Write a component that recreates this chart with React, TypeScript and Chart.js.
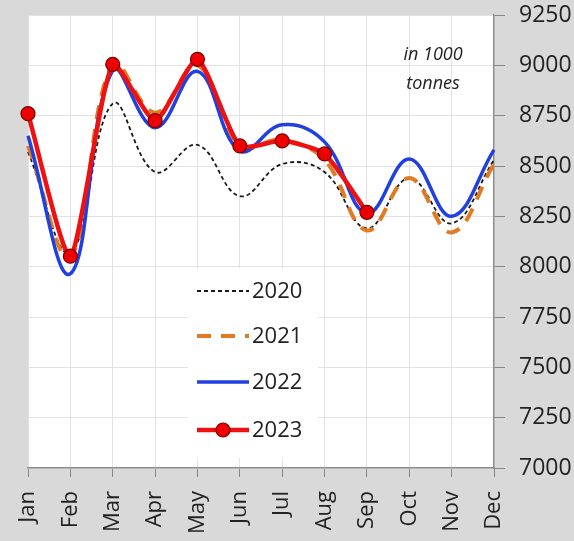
import React, { useEffect, useRef } from "react";
import { Chart, registerables } from "chart.js";

Chart.register(...registerables);

const months = ["Jan", "Feb", "Mar", "Apr", "May", "Jun", "Jul", "Aug", "Sep", "Oct", "Nov", "Dec"];
const yTicks = [7000, 7250, 7500, 7750, 8000, 8250, 8500, 8750, 9000, 9250];
const s2020 = [8570, 8070, 8810, 8470, 8605, 8350, 8510, 8470, 8190, 8440, 8215, 8530];
const s2021 = [8600, 8050, 9005, 8765, 9000, 8600, 8630, 8530, 8180, 8440, 8170, 8510];
const s2022 = [8650, 7965, 8975, 8690, 8970, 8575, 8705, 8620, 8265, 8535, 8250, 8580];
const s2023 = [8760, 8052, 9005, 8725, 9030, 8600, 8625, 8560, 8270, null, null, null];
const seriesNames = ["2020", "2021", "2022", "2023"];
const unitLines = ["in 1000", "tonnes"];

const FONT = "'Open Sans', 'Noto Sans', sans-serif";

const bgPlugin = {
  id: "bgPlugin",
  beforeDraw(chart: any) {
    const { ctx, chartArea } = chart;
    ctx.save();
    ctx.fillStyle = "#ffffff";
    ctx.fillRect(chartArea.left, chartArea.top, chartArea.right - chartArea.left, chartArea.bottom - chartArea.top);
    ctx.restore();
  },
};

const overlayPlugin = {
  id: "overlayPlugin",
  afterDraw(chart: any) {
    const { ctx, chartArea } = chart;
    ctx.save();
    ctx.fillStyle = "#222";
    ctx.font = `italic 18px ${FONT}`;
    ctx.textAlign = "center";
    ctx.textBaseline = "middle";
    ctx.fillText(unitLines[0], chartArea.right - 61, 55);
    ctx.fillText(unitLines[1], chartArea.right - 61, 84);

    const bx = 188, by = 268, bw = 130, bh = 190;
    ctx.fillStyle = "#ffffff";
    ctx.fillRect(bx, by, bw, bh);
    const rows = [291, 336, 382, 430];
    const ds = chart.data.datasets;
    [0, 1, 2, 3].forEach((di, i) => {
      const d = ds[di];
      const y = rows[i];
      ctx.save();
      ctx.strokeStyle = d.borderColor;
      ctx.lineWidth = d.borderWidth;
      ctx.setLineDash(d.borderDash || []);
      ctx.beginPath();
      ctx.moveTo(197, y);
      ctx.lineTo(249, y);
      ctx.stroke();
      ctx.setLineDash([]);
      if (d.pointRadius > 0) {
        ctx.beginPath();
        ctx.arc(223, y, d.pointRadius, 0, Math.PI * 2);
        ctx.fillStyle = d.pointBackgroundColor;
        ctx.fill();
        ctx.lineWidth = d.pointBorderWidth;
        ctx.strokeStyle = d.pointBorderColor;
        ctx.stroke();
      }
      ctx.restore();
      ctx.fillStyle = "#222";
      ctx.font = `22px ${FONT}`;
      ctx.textAlign = "left";
      ctx.textBaseline = "middle";
      ctx.fillText(d.label, 252, y + 1);
    });
    ctx.restore();
  },
};

export default function App() {
  const ref = useRef<HTMLCanvasElement | null>(null);

  useEffect(() => {
    document.body.style.margin = "0";
    const canvas = ref.current;
    if (!canvas) return;
    const chart = new Chart(canvas, {
      type: "line",
      data: {
        labels: months,
        datasets: [
          {
            label: seriesNames[0],
            data: s2020,
            borderColor: "#1a1a1a",
            borderWidth: 1.8,
            borderDash: [4, 3],
            tension: 0.4,
            pointRadius: 0,
            order: 3,
          },
          {
            label: seriesNames[1],
            data: s2021,
            borderColor: "#e07b22",
            borderWidth: 4,
            borderDash: [14, 10],
            tension: 0.4,
            pointRadius: 0,
            order: 2,
          },
          {
            label: seriesNames[2],
            data: s2022,
            borderColor: "#2040e0",
            borderWidth: 3.5,
            tension: 0.4,
            pointRadius: 0,
            order: 1,
          },
          {
            label: seriesNames[3],
            data: s2023,
            borderColor: "#ee1111",
            borderWidth: 4.5,
            tension: 0.2,
            pointRadius: 7,
            pointBackgroundColor: "#ee0000",
            pointBorderColor: "#7a0000",
            pointBorderWidth: 1.2,
            order: 0,
            spanGaps: false,
          },
        ] as any,
      },
      options: {
        animation: false,
        responsive: false,
        maintainAspectRatio: false,
        layout: { padding: { left: 28, top: 15, right: 0, bottom: 0 } },
        plugins: {
          legend: { display: false },
          tooltip: { enabled: false },
          title: { display: false },
        },
        scales: {
          x: {
            type: "category",
            offset: false,
            afterFit(scale: any) {
              scale.height = 73;
              scale.paddingLeft = 0;
              scale.paddingRight = 0;
            },
            grid: {
              color: "#e2e2e2",
              lineWidth: 1,
              tickLength: 9,
              tickColor: "#888",
              drawTicks: true,
            },
            border: { color: "#8a8a8a", width: 1.5 },
            ticks: {
              autoSkip: false,
              maxRotation: 90,
              minRotation: 90,
              padding: 14,
              color: "#222",
              font: { family: FONT, size: 22 },
            },
          },
          y: {
            type: "linear",
            position: "right",
            min: 7000,
            max: 9250,
            afterFit(scale: any) {
              scale.width = 80;
              scale.paddingTop = 0;
              scale.paddingBottom = 0;
            },
            afterBuildTicks(scale: any) {
              scale.ticks = yTicks.map((v) => ({ value: v }));
            },
            grid: {
              color: "#e2e2e2",
              lineWidth: 1,
              tickLength: 11,
              tickColor: "#888",
            },
            border: { color: "#8a8a8a", width: 1.5 },
            ticks: {
              padding: 14,
              color: "#222",
              font: { family: FONT, size: 23 },
              callback: (v: any) => String(v),
            },
          },
        },
      },
      plugins: [bgPlugin, overlayPlugin],
    } as any);
    return () => chart.destroy();
  }, []);

  return (
    <div style={{ width: 574, height: 541, background: "#d9d9d9", position: "relative", overflow: "hidden" }}>
      <canvas ref={ref} width={574} height={541} style={{ width: 574, height: 541, display: "block" }} />
    </div>
  );
}
